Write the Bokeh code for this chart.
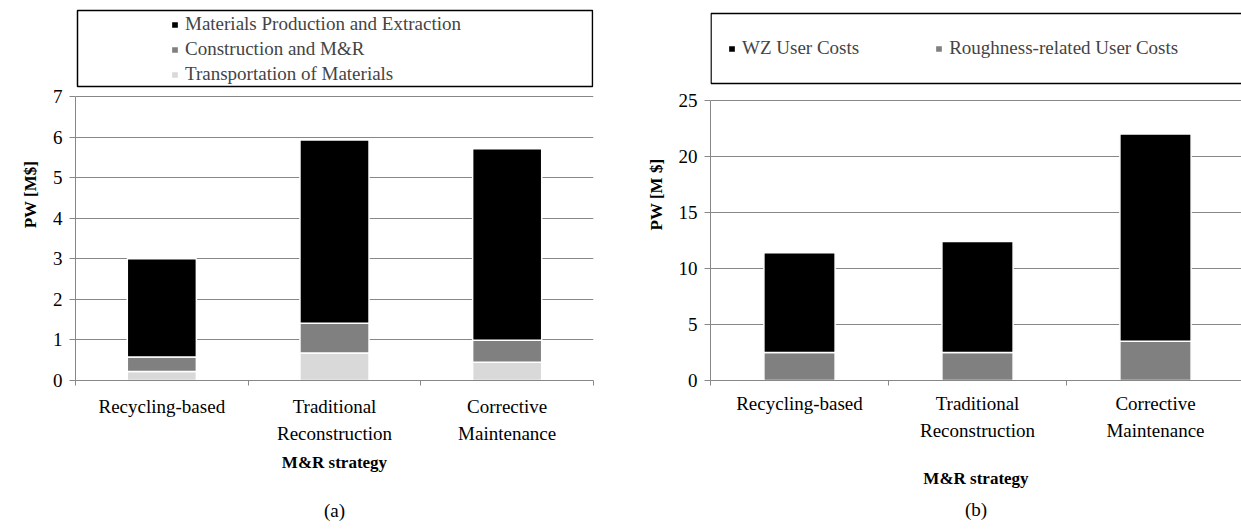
from bokeh.plotting import figure
from bokeh.models import (ColumnDataSource, FixedTicker, LinearAxis, Legend,
                          LegendItem, BoxAnnotation, Range1d)
from bokeh.layouts import row
from bokeh.embed import file_html
from bokeh.resources import INLINE

# ---------------- data ----------------
categories = ["Recycling-based", "Traditional\nReconstruction", "Corrective\nMaintenance"]

# (a) PW [M$]
transport = [0.22, 0.68, 0.45]
construction = [0.36, 0.73, 0.54]
materials = [2.42, 4.52, 4.72]
series_a = ["Transportation of Materials", "Construction and M&R",
            "Materials Production and Extraction"]
yticks_a = [0, 1, 2, 3, 4, 5, 6, 7]

# (b) PW [M $]
roughness = [2.5, 2.5, 3.5]
wz = [8.9, 9.9, 18.5]
series_b = ["Roughness-related User Costs", "WZ User Costs"]
yticks_b = [0, 5, 10, 15, 20, 25]

FONT = "Liberation Serif"
GRID = "#878787"
BLACK = "#000000"
MID = "#808080"
LIGHT = "#d9d9d9"
H = 529
TOP = 8
FRAME_H = 372          # both frames share the same bottom border in a row


def base_figure(width, mb_left, mb_right, axis_h, yticks, ytitle, caption,
                label_standoff, xtitle_standoff, cap_standoff, x_end):
    y_top = yticks[-1]
    y_end = y_top * FRAME_H / axis_h          # extra room above for legend
    p = figure(width=width, height=H, x_range=Range1d(0, x_end),
               y_range=Range1d(0, y_end), output_backend="svg",
               toolbar_location=None, min_border_left=mb_left,
               min_border_right=mb_right, min_border_top=TOP,
               min_border_bottom=H - TOP - FRAME_H)
    p.outline_line_color = None
    p.background_fill_color = "white"
    p.border_fill_color = "white"
    p.xgrid.visible = False
    p.ygrid.grid_line_color = GRID
    p.ygrid.grid_line_width = 1

    n = len(categories)
    xpos = [i + 0.5 for i in range(n)]
    xa = p.xaxis[0]
    xa.bounds = (0, n)
    xa.ticker = FixedTicker(ticks=xpos, minor_ticks=list(range(n + 1)))
    xa.major_label_overrides = {x: c for x, c in zip(xpos, categories)}
    xa.axis_line_color = GRID
    xa.major_tick_line_color = None
    xa.major_tick_out = 0
    xa.major_tick_in = 0
    xa.minor_tick_line_color = GRID
    xa.minor_tick_out = 5
    xa.minor_tick_in = 0
    xa.major_label_text_font = FONT
    xa.major_label_text_font_size = "19px"
    xa.major_label_text_color = "black"
    xa.major_label_text_line_height = 1.3
    xa.major_label_standoff = label_standoff
    xa.axis_label = "M&R strategy"
    xa.axis_label_text_font = FONT
    xa.axis_label_text_font_size = "17px"
    xa.axis_label_text_font_style = "bold"
    xa.axis_label_text_color = "black"
    xa.axis_label_standoff = xtitle_standoff

    ya = p.yaxis[0]
    ya.bounds = (0, y_top)
    ya.ticker = FixedTicker(ticks=yticks, minor_ticks=[])
    ya.axis_line_color = GRID
    ya.major_tick_line_color = GRID
    ya.major_tick_out = 6
    ya.major_tick_in = 0
    ya.minor_tick_line_color = None
    ya.major_label_text_font = FONT
    ya.major_label_text_font_size = "19px"
    ya.major_label_text_color = "black"
    ya.major_label_standoff = 7
    ya.axis_label = ytitle
    ya.axis_label_text_font = FONT
    ya.axis_label_text_font_size = "17px"
    ya.axis_label_text_font_style = "bold"
    ya.axis_label_text_color = "black"
    ya.axis_label_standoff = 10

    cap = LinearAxis(ticker=FixedTicker(ticks=[]), axis_label=caption,
                     axis_line_color=None, major_tick_line_color=None,
                     minor_tick_line_color=None, major_tick_out=0,
                     major_tick_in=0, major_label_standoff=0)
    cap.axis_label_text_font = FONT
    cap.axis_label_text_font_size = "19px"
    cap.axis_label_text_font_style = "normal"
    cap.axis_label_text_color = "black"
    cap.axis_label_standoff = cap_standoff
    p.add_layout(cap, "below")
    return p, xpos


def legend(items, loc, orientation, spacing):
    return Legend(items=items, location=loc, orientation=orientation,
                  padding=0, margin=0, spacing=spacing, glyph_width=9,
                  glyph_height=9, label_standoff=6, label_height=22,
                  label_text_font=FONT, label_text_font_size="19px",
                  border_line_color=None, background_fill_alpha=0)


# ---------------- (a) ----------------
# frame: x 75..593, y 8..380 ; axis 0..7 spans 284 px
AXH_A = 284
pa, xpos = base_figure(620, 75, 27, AXH_A, yticks_a, "PW [M$]", "(a)",
                       10, 6, 25, 3)
src_a = ColumnDataSource(dict(x=xpos, t=transport, c=construction, m=materials))
rs_a = pa.vbar_stack(["t", "c", "m"], x="x", width=0.4, source=src_a,
                     fill_color=[LIGHT, MID, BLACK], line_color="white",
                     line_width=1.5)
pa.add_layout(legend([LegendItem(label=series_a[2], renderers=[rs_a[2]]),
                      LegendItem(label=series_a[1], renderers=[rs_a[1]]),
                      LegendItem(label=series_a[0], renderers=[rs_a[0]])],
                     (95, 295), "vertical", 3))
ppu_a = AXH_A / 7.0
cw_a = 518 / 3.0
BASE_A = TOP + FRAME_H
pa.add_layout(BoxAnnotation(left=(77 - 75) / cw_a, right=(592 - 75) / cw_a,
                            top=(BASE_A - 10) / ppu_a,
                            bottom=(BASE_A - 86) / ppu_a,
                            fill_alpha=0, line_color="black", line_alpha=1,
                            line_width=1.5))

# ---------------- (b) ----------------
# frame: x 710..1241, y 8..380 ; axis 0..25 spans 280 px
AXH_B = 280
pb, xpos_b = base_figure(621, 90, 0, AXH_B, yticks_b, "PW [M $]", "(b)",
                         7, 25, 8, 531 / 178.0)
src_b = ColumnDataSource(dict(x=xpos_b, r=roughness, w=wz))
rs_b = pb.vbar_stack(["r", "w"], x="x", width=0.4, source=src_b,
                     fill_color=[MID, BLACK], line_color="white",
                     line_width=1.5)
pb.add_layout(legend([LegendItem(label=series_b[1], renderers=[rs_b[1]]),
                      LegendItem(label=series_b[0], renderers=[rs_b[0]])],
                     (17, 321), "horizontal", 75))
ppu_b = AXH_B / 25.0
BASE_B = TOP + FRAME_H
pb.add_layout(BoxAnnotation(left=0.003, right=3.3,
                            top=(BASE_B - 13) / ppu_b,
                            bottom=(BASE_B - 83) / ppu_b,
                            fill_alpha=0, line_color="black", line_alpha=1,
                            line_width=1.5))

layout = row(pa, pb, spacing=0)
open("out.html", "w").write(file_html(layout, INLINE))
